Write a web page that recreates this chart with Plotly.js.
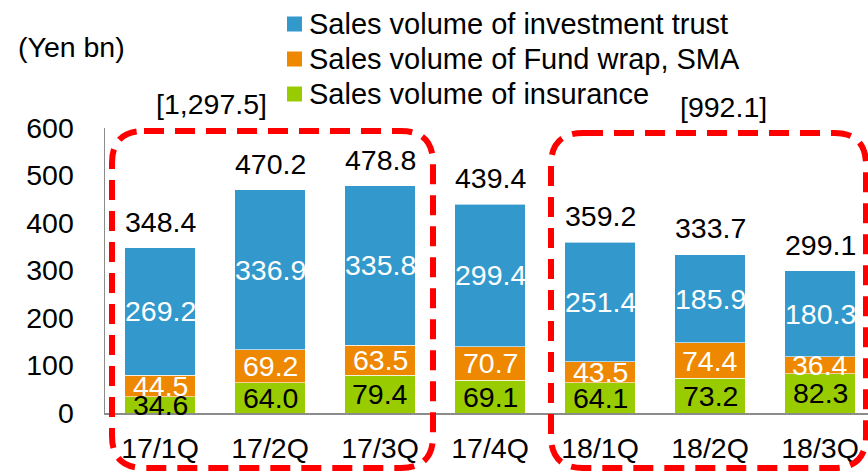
<!DOCTYPE html>
<html>
<head>
<meta charset="utf-8">
<script src="https://cdn.plot.ly/plotly-3.0.1.min.js"></script>
<style>
html,body{margin:0;padding:0;background:#fff;}
#chart{width:868px;height:472px;}
</style>
</head>
<body>
<div id="chart"></div>
<script>
// ---- data ----
var categories = ["17/1Q","17/2Q","17/3Q","17/4Q","18/1Q","18/2Q","18/3Q"];
var insurance  = [34.6, 64.0, 79.4, 69.1, 64.1, 73.2, 82.3];
var fundWrap   = [44.5, 69.2, 63.5, 70.7, 43.5, 74.4, 36.4];
var invTrust   = [269.2, 336.9, 335.8, 299.4, 251.4, 185.9, 180.3];
var totals     = [348.4, 470.2, 478.8, 439.4, 359.2, 333.7, 299.1];
var yTicks     = [0, 100, 200, 300, 400, 500, 600];
var groupLabels = ["[1,297.5]", "[992.1]"];
var seriesNames = ["Sales volume of insurance", "Sales volume of Fund wrap, SMA", "Sales volume of investment trust"];

// ---- layout geometry (pixels) ----
var W = 868, H = 472;
var mL = 105, mR = 0, mT = 128, mB = 59;
var pw = W - mL - mR, ph = H - mT - mB;
function px(x){ return (x - mL) / pw; }
function py(y){ return (H - mB - y) / ph; }

var FONT = "Liberation Sans, Arial, sans-serif";
var FS = 28.5;
var colors = ["#99cc00", "#ee8800", "#3399cc"];

var traces = [insurance, fundWrap, invTrust].map(function(vals, i){
  return {
    type: "bar",
    name: seriesNames[i],
    x: categories,
    y: vals,
    marker: {color: colors[i], line: {color: "rgba(255,255,255,0.6)", width: 1}},
    hoverinfo: "skip",
    showlegend: false
  };
});

var annotations = [];
var shapes = [];
var labelColors = ["#000000", "#ffffff", "#ffffff"];
[insurance, fundWrap, invTrust].forEach(function(vals, s){
  vals.forEach(function(v, i){
    var base = 0;
    if (s >= 1) base += insurance[i];
    if (s >= 2) base += fundWrap[i];
    annotations.push({
      x: categories[i], y: base + v / 2, xref: "x", yref: "y",
      text: v.toFixed(1), showarrow: false,
      xanchor: "center", yanchor: "middle",
      font: {family: FONT, size: FS, color: labelColors[s]}
    });
  });
});
totals.forEach(function(t, i){
  annotations.push({
    x: categories[i], y: t, xref: "x", yref: "y",
    text: t.toFixed(1), showarrow: false,
    xanchor: "center", yanchor: "middle", yshift: 26,
    font: {family: FONT, size: FS, color: "#000"}
  });
});
annotations.push({
  x: px(71), y: py(47), xref: "paper", yref: "paper",
  text: "(Yen bn)", showarrow: false, xanchor: "center", yanchor: "middle",
  font: {family: FONT, size: FS, color: "#000"}
});
annotations.push({
  x: px(211), y: py(104), xref: "paper", yref: "paper",
  text: groupLabels[0], showarrow: false, xanchor: "center", yanchor: "middle",
  font: {family: FONT, size: FS, color: "#000"}
});
annotations.push({
  x: px(723), y: py(107), xref: "paper", yref: "paper",
  text: groupLabels[1], showarrow: false, xanchor: "center", yanchor: "middle",
  font: {family: FONT, size: FS, color: "#000"}
});

// legend (top entry = investment trust)
var legendRows = [24, 59, 94];
[2, 1, 0].forEach(function(s, k){
  var cy = legendRows[k];
  shapes.push({
    type: "rect", xref: "paper", yref: "paper",
    x0: px(287), x1: px(302), y0: py(cy - 7.5), y1: py(cy + 7.5),
    fillcolor: colors[s], line: {width: 0}, layer: "above"
  });
  annotations.push({
    x: px(307), y: py(cy), xref: "paper", yref: "paper",
    text: seriesNames[s], showarrow: false, xanchor: "left", yanchor: "middle",
    font: {family: FONT, size: 29, color: "#000"}
  });
});

function roundRect(x0, y0, x1, y1, r){
  var X = function(v){ return px(v).toFixed(5); };
  var Y = function(v){ return py(v).toFixed(5); };
  return "M" + X(x0 + r) + "," + Y(y0) +
    " L" + X(x1 - r) + "," + Y(y0) +
    " Q" + X(x1) + "," + Y(y0) + " " + X(x1) + "," + Y(y0 + r) +
    " L" + X(x1) + "," + Y(y1 - r) +
    " Q" + X(x1) + "," + Y(y1) + " " + X(x1 - r) + "," + Y(y1) +
    " L" + X(x0 + r) + "," + Y(y1) +
    " Q" + X(x0) + "," + Y(y1) + " " + X(x0) + "," + Y(y1 - r) +
    " L" + X(x0) + "," + Y(y0 + r) +
    " Q" + X(x0) + "," + Y(y0) + " " + X(x0 + r) + "," + Y(y0) + " Z";
}
var dashLine = {color: "#ff0000", width: 6, dash: "20px,11px"};
shapes.push({type: "path", xref: "paper", yref: "paper", path: roundRect(112, 131, 433, 468, 32), line: dashLine, layer: "above"});
shapes.push({type: "path", xref: "paper", yref: "paper", path: roundRect(551, 133, 866, 468, 32), line: dashLine, layer: "above"});

var layout = {
  width: W, height: H,
  margin: {l: mL, r: mR, t: mT, b: mB, pad: 0, autoexpand: false},
  paper_bgcolor: "#fff", plot_bgcolor: "#fff",
  barmode: "stack", bargap: 0.36,
  font: {family: FONT, size: FS, color: "#000"},
  showlegend: false,
  xaxis: {
    type: "category", range: [-0.5, pw / 110 - 0.5],
    showline: true, linecolor: "#8c8c8c", linewidth: 1.5,
    ticks: "", showgrid: false, zeroline: false,
    tickfont: {family: FONT, size: FS, color: "#000"},
    ticklabelstandoff: 9, fixedrange: true
  },
  yaxis: {
    range: [0, 600], tickvals: yTicks, ticktext: yTicks.map(String),
    showline: true, linecolor: "#8c8c8c", linewidth: 1.5,
    ticks: "", showgrid: false, zeroline: false,
    tickfont: {family: FONT, size: FS, color: "#000"},
    ticklabelstandoff: 24, fixedrange: true
  },
  annotations: annotations,
  shapes: shapes
};

Plotly.newPlot("chart", traces, layout, {displayModeBar: false, staticPlot: true});
</script>
</body>
</html>
